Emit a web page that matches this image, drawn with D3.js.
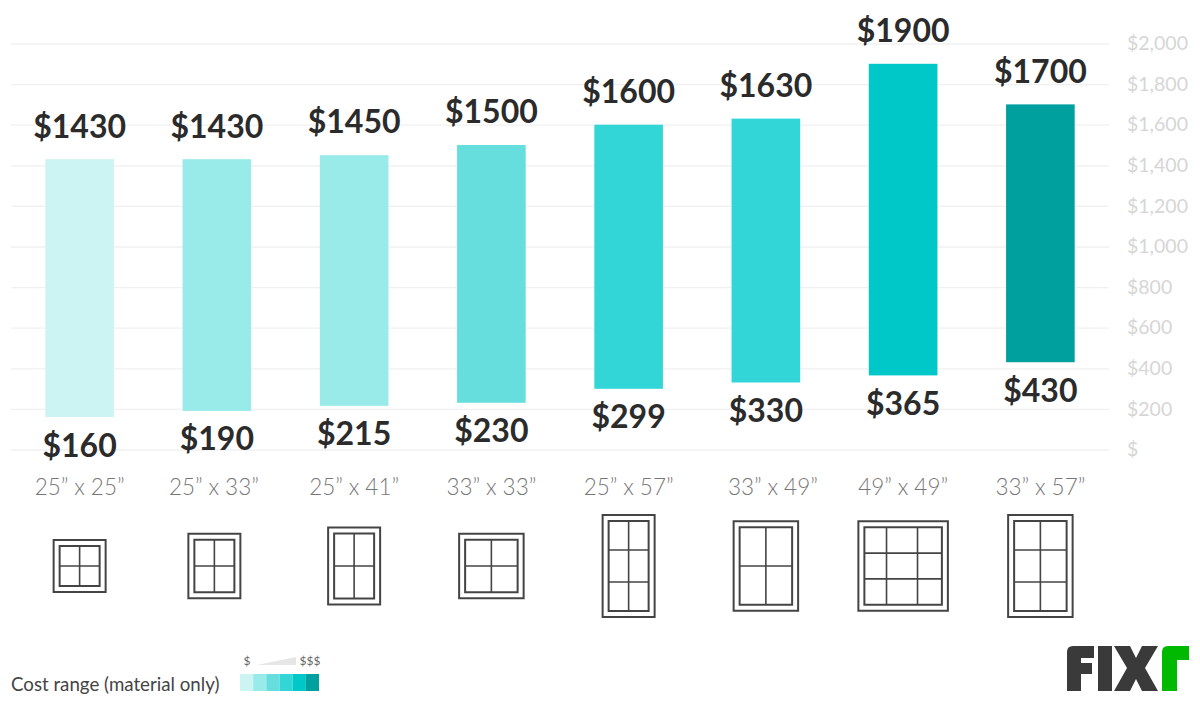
<!DOCTYPE html>
<html>
<head>
<meta charset="utf-8">
<script src="https://cdn.jsdelivr.net/npm/d3@7"></script>
<style>
  html, body { margin: 0; padding: 0; background: #fff; }
  svg { display: block; font-family: Lato, "Open Sans", sans-serif; }
</style>
</head>
<body>
<div id="chart"></div>
<script>
// chart values
const sizes = ["25” x 25”", "25” x 33”", "25” x 41”", "33” x 33”", "25” x 57”", "33” x 49”", "49” x 49”", "33” x 57”"];
const lowCost = [160, 190, 215, 230, 299, 330, 365, 430];
const highCost = [1430, 1430, 1450, 1500, 1600, 1630, 1900, 1700];
const barColors = ["#ccf4f2", "#99ebe9", "#99ebe9", "#66dedd", "#33d6d6", "#33d6d6", "#00c8c8", "#00a09e"];
const legendColors = ["#ccf4f2", "#99ebe9", "#66dedd", "#33d6d6", "#00c8c8", "#00a09e"];
const costTicks = [0, 200, 400, 600, 800, 1000, 1200, 1400, 1600, 1800, 2000];

// window icons: inches, and the relative pane sizes
const windowWidths = [25, 25, 25, 33, 25, 33, 49, 33];
const windowHeights = [25, 33, 41, 33, 57, 49, 49, 57];
const windowCols = [[1, 1], [1, 1], [1, 1], [1, 1], [1, 1], [1, 1], [1, 1.4, 1.1], [1, 1]];
const windowRows = [[1, 1], [1, 1], [1, 1], [1, 1], [1, 1.1, 1], [1, 1], [1, 1, 1], [1, 1.1, 1]];

const width = 1200, height = 702;
const svg = d3.select("#chart").append("svg")
    .attr("width", width)
    .attr("height", height);

let x = d3.scaleBand()
    .domain(sizes)
    .range([11, 1109])
    .paddingInner(0.5)
    .paddingOuter(0.25);

let y = d3.scaleLinear()
    .domain([0, 2000])
    .range([449.5, 43.5]);

const center = d => x(d) + x.bandwidth() / 2;

// the original has these two columns a bit off the bar centre
const labelShift = d => d == sizes[1] ? -3 : d == sizes[5] ? 7 : 0;
const iconShift = d => d == sizes[1] ? -2.5 : 0;

// right axis + gridlines
let axis = svg.append("g")
    .attr("transform", "translate(1109,0)")
    .call(d3.axisRight(y)
        .tickValues(costTicks)
        .tickSize(-1098)
        .tickPadding(18)
        .tickFormat(d => d == 0 ? "$" : "$" + d3.format(",")(d)));
axis.select(".domain").remove();
axis.selectAll("line").attr("stroke", "#f0f0f0").attr("stroke-width", 1.3);
axis.selectAll("text")
    .attr("fill", "#d6d6d6")
    .style("font-size", "19.5px")
    .style("font-family", "Lato");

// bars
svg.selectAll("rect.bar").data(sizes)
  .enter().append("rect")
    .attr("class", "bar")
    .attr("x", d => x(d))
    .attr("width", x.bandwidth())
    .attr("y", (d, i) => y(highCost[i]))
    .attr("height", (d, i) => y(lowCost[i]) - y(highCost[i]))
    .attr("fill", (d, i) => barColors[i]);

// value labels
svg.selectAll("text.high").data(sizes)
  .enter().append("text")
    .attr("class", "high")
    .attr("x", center)
    .attr("y", (d, i) => y(highCost[i]) - 21.7)
    .attr("text-anchor", "middle")
    .attr("fill", "#2b2b2b")
    .style("font-size", "32px")
    .style("font-weight", 700)
    .text((d, i) => "$" + highCost[i]);

svg.selectAll("text.low").data(sizes)
  .enter().append("text")
    .attr("class", "low")
    .attr("x", center)
    .attr("y", (d, i) => y(lowCost[i]) + 39.5)
    .attr("text-anchor", "middle")
    .attr("fill", "#2b2b2b")
    .style("font-size", "32px")
    .style("font-weight", 700)
    .text((d, i) => "$" + lowCost[i]);

// size labels
svg.selectAll("text.size").data(sizes)
  .enter().append("text")
    .attr("class", "size")
    .attr("x", d => center(d) + labelShift(d))
    .attr("y", 495)
    .attr("text-anchor", "middle")
    .attr("fill", "#777")
    .style("font-size", "22.5px")
    .style("font-weight", 300)
    .text(d => d);

// window icons, scaled from the inches
let inch = d3.scaleLinear().domain([25, 57]).range([52, 102]);
const iconMid = 566, inset = 6;

sizes.forEach(function(d, i) {
    let w = inch(windowWidths[i]), h = inch(windowHeights[i]);
    let g = svg.append("g")
        .attr("transform", `translate(${center(d) + iconShift(d) - w / 2}, ${iconMid - h / 2})`)
        .attr("fill", "none")
        .attr("stroke", "#444");
    g.append("rect").attr("width", w).attr("height", h).attr("stroke-width", 2);
    g.append("rect").attr("x", inset).attr("y", inset)
        .attr("width", w - inset * 2).attr("height", h - inset * 2)
        .attr("stroke-width", 2);

    let colSum = d3.cumsum(windowCols[i]), rowSum = d3.cumsum(windowRows[i]);
    let paneX = d3.scaleLinear().domain([0, colSum[colSum.length - 1]]).range([inset, w - inset]);
    let paneY = d3.scaleLinear().domain([0, rowSum[rowSum.length - 1]]).range([inset, h - inset]);
    colSum.slice(0, -1).forEach(c => g.append("line")
        .attr("x1", paneX(c)).attr("x2", paneX(c))
        .attr("y1", inset).attr("y2", h - inset).attr("stroke-width", 1.6));
    rowSum.slice(0, -1).forEach(r => g.append("line")
        .attr("x1", inset).attr("x2", w - inset)
        .attr("y1", paneY(r)).attr("y2", paneY(r)).attr("stroke-width", 1.6));
});

// legend
svg.append("text")
    .attr("x", 11).attr("y", 690.5)
    .attr("fill", "#444")
    .style("font-size", "18.7px")
    .text("Cost range (material only)");

let legendX = d3.scaleBand().domain(d3.range(legendColors.length)).range([240, 319]);
svg.selectAll("rect.legend").data(legendColors)
  .enter().append("rect")
    .attr("class", "legend")
    .attr("x", (d, i) => legendX(i))
    .attr("y", 674)
    .attr("width", legendX.bandwidth())
    .attr("height", 17)
    .attr("fill", d => d);

svg.append("path").attr("d", "M257,665L296,657L296,665Z").attr("fill", "#e6e6e6");
svg.append("text").attr("x", 247).attr("y", 665).attr("text-anchor", "middle")
    .attr("fill", "#666").style("font-size", "12px").text("$");
svg.append("text").attr("x", 310).attr("y", 665).attr("text-anchor", "middle")
    .attr("fill", "#666").style("font-size", "12px").text("$$$");

// logo
let logo = svg.append("g");
logo.append("path").attr("fill", "#3a3a3a")
    .attr("d", "M1067,652Q1067,646 1073,646L1094,646L1094,658L1081,658L1081,663L1092,663L1092,674L1081,674L1081,691L1067,691Z");
logo.append("path").attr("fill", "#3a3a3a")
    .attr("d", "M1098,646H1112V691H1098Z");
logo.append("path").attr("fill", "#3a3a3a")
    .attr("d", "M1114,646H1130L1136,658L1142,646H1158L1145,668L1158,691H1142L1136,679L1130,691H1114L1127,668Z");
logo.append("path").attr("fill", "#00b900")
    .attr("d", "M1162,691V652Q1162,646 1168,646H1189V660H1177V691Z");
</script>
</body>
</html>
